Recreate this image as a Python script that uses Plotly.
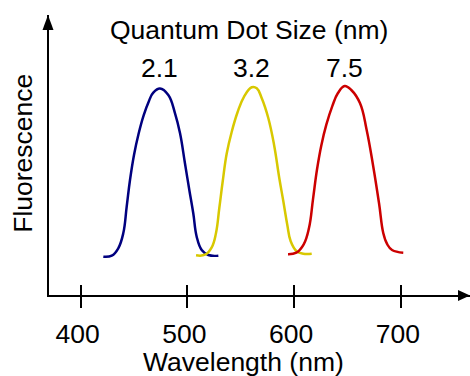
import plotly.graph_objects as go

# Emission spectra of three quantum dot sizes (wavelength in nm, fluorescence in a.u.)
dot_sizes = ["2.1", "3.2", "7.5"]
colors = ["#00007F", "#D8C800", "#CC0000"]

wl_21 = [421.2, 429.1, 435.2, 439.9, 443.1, 446.2, 450.0, 454.2, 459.0, 464.0, 468.0, 474.3,
         482.1, 488.4, 493.1, 497.7, 501.8, 505.5, 508.7, 513.4, 519.6, 529.0]
fl_21 = [18.74, 19.23, 22.80, 30.05, 42.90, 55.80, 68.0, 78.0, 87.0, 94.0, 98.0, 100.0,
         96.86, 88.02, 78.36, 63.87, 50.97, 39.71, 28.41, 21.98, 19.57, 19.23]

wl_32 = [508.1, 516.5, 522.8, 526.8, 529.9, 533.1, 536.8, 541.5, 547.0, 553.0, 560.3, 565.0,
         569.6, 575.8, 581.2, 586.1, 589.9, 593.6, 596.8, 602.4, 608.6, 616.5]
fl_32 = [19.42, 19.71, 23.29, 30.19, 42.27, 55.17, 68.5, 79.0, 88.5, 96.0, 100.58, 100.10,
         95.41, 85.75, 72.85, 56.76, 45.51, 34.20, 26.18, 21.35, 20.19, 20.19]

wl_75 = [594.3, 602.1, 609.0, 614.0, 617.7, 621.5, 625.5, 630.2, 635.8, 641.1, 647.4, 653.6,
         661.8, 668.0, 674.2, 679.6, 683.6, 687.1, 691.8, 702.3]
fl_75 = [19.90, 20.68, 24.73, 32.75, 46.47, 60.97, 72.5, 82.5, 91.5, 97.8, 101.21, 99.28,
         92.85, 79.95, 62.22, 44.54, 30.05, 24.88, 21.98, 20.68]

tick_vals = [400, 500, 600, 700]
x_range = [370.29, 764.85]
y_range = [0.24, 135.5]

FONT = "Liberation Sans, Arial, sans-serif"
FS = 26.5

fig = go.Figure()
for name, wl, fl, col in zip(dot_sizes, [wl_21, wl_32, wl_75], [fl_21, fl_32, fl_75], colors):
    fig.add_trace(go.Scatter(x=wl, y=fl, mode="lines", name=name,
                             line=dict(color=col, width=2.5, shape="spline", smoothing=1.2),
                             showlegend=False, hoverinfo="skip"))
    peak = wl[fl.index(max(fl))]
    fig.add_annotation(x=peak, xref="x", y=0.8125, yref="paper", text=name, showarrow=False,
                       font=dict(family=FONT, size=FS, color="black"),
                       xanchor="center", yanchor="middle")

fig.add_annotation(x=0.4751, y=0.9464, xref="paper", yref="paper", text="Quantum Dot Size (nm)",
                   showarrow=False, font=dict(family=FONT, size=FS, color="black"),
                   xanchor="center", yanchor="middle")
fig.add_annotation(x=0.4629, y=-0.2404, xref="paper", yref="paper", text="Wavelength (nm)",
                   showarrow=False, font=dict(family=FONT, size=FS, color="black"),
                   xanchor="center", yanchor="middle")
fig.add_annotation(x=-0.0606, y=0.506, xref="paper", yref="paper", text="Fluorescence",
                   textangle=-90, showarrow=False, font=dict(family=FONT, size=FS, color="black"),
                   xanchor="center", yanchor="middle")

# arrowheads at the ends of both axes
fig.add_shape(type="path", xref="paper", yref="paper", xsizemode="pixel", ysizemode="pixel",
              xanchor=1, yanchor=0, path="M 0,-0.5 L -12,5 L -12,-6 Z",
              fillcolor="black", line=dict(width=0))
fig.add_shape(type="path", xref="paper", yref="paper", xsizemode="pixel", ysizemode="pixel",
              xanchor=0, yanchor=1, path="M -1,0 L -6.5,-15 L 4.5,-15 Z",
              fillcolor="black", line=dict(width=0))

fig.update_layout(
    width=470, height=376,
    margin=dict(l=49, r=0, t=15, b=81),
    paper_bgcolor="white", plot_bgcolor="white",
    xaxis=dict(range=x_range, tickvals=tick_vals, ticktext=[str(v) for v in tick_vals],
               ticks="outside", ticklen=11, tickwidth=2, tickcolor="black",
               showline=True, linewidth=2, linecolor="black", showgrid=False, zeroline=False,
               tickfont=dict(family=FONT, size=FS, color="black"),
               ticklabelstandoff=3, ticklabelshift=-3),
    xaxis2=dict(range=x_range, tickvals=tick_vals, overlaying="x", anchor="y", side="bottom",
                ticks="inside", ticklen=10, tickwidth=2, tickcolor="black",
                showticklabels=False, showgrid=False, zeroline=False, showline=False),
    yaxis=dict(range=y_range, showline=True, linewidth=2, linecolor="black",
               showticklabels=False, ticks="", showgrid=False, zeroline=False),
)
# empty trace so the second x axis is drawn
fig.add_trace(go.Scatter(x=[], y=[], xaxis="x2", yaxis="y", showlegend=False))

fig.write_html("out.html")
